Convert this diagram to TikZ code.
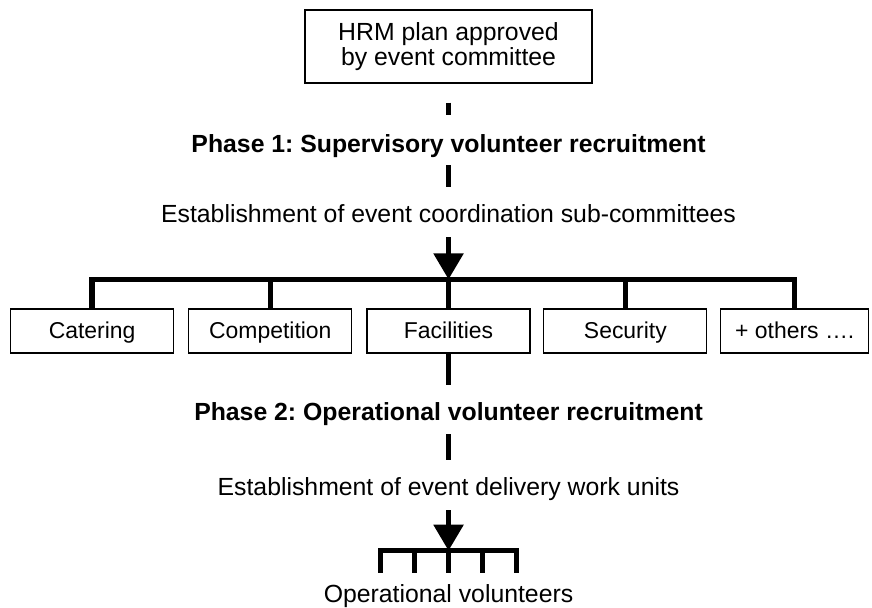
\documentclass[tikz,border=0pt]{standalone}
\usepackage{fontspec}
\setmainfont{Liberation Sans}
\usetikzlibrary{arrows.meta,positioning}
\frenchspacing

\begin{document}
\begin{tikzpicture}[
  font=\fontsize{18.6}{16.8}\selectfont,
  label/.style={inner sep=0pt, text height=12pt, text depth=3.4pt},
  unit/.style={draw, line width=0.9pt, inner sep=0pt, minimum width=122.25pt,
    minimum height=33pt, text height=12pt, text depth=1.5pt,
    font=\fontsize{17.2}{18}\selectfont},
  link/.style={line width=4pt},
  feed/.style={line width=4pt, -{Triangle[width=21.75pt,length=19.5pt]}}
]
\useasboundingbox (-336.4pt,34.9pt) rectangle (317.6pt,-420.4pt);

\node (hrm) [draw, line width=0.9pt, minimum width=215.25pt, minimum height=54.75pt,
  align=center] {HRM plan approved\\by event committee};
\node (phase1) [label, below of=hrm, node distance=74.8pt]
  {\bfseries Phase 1: Supervisory volunteer recruitment};
\node (est1) [label, below of=phase1, node distance=52.5pt]
  {Establishment of event coordination sub-committees};

\node (facilities) [unit, below of=est1, node distance=86.06pt] {Facilities};
\node (competition) [unit, left=10.5pt of facilities] {Competition};
\node (catering) [unit, left=10.5pt of competition] {Catering};
\node (security) [unit, right=9.5pt of facilities] {Security};
\node (others) [unit, right=9.5pt of security, minimum width=111pt] {+ others ….};

\node (phase2) [label, below of=facilities, node distance=62.44pt]
  {\bfseries Phase 2: Operational volunteer recruitment};
\node (est2) [label, below of=phase2, node distance=56.25pt]
  {Establishment of event delivery work units};
\node (vols) [label, below of=est2, node distance=80.25pt] {Operational volunteers};

\coordinate (hub1) at ([yshift=21.75pt]facilities.north);
\coordinate (hub2) at ([yshift=26.25pt]vols.north);

\draw[link, shorten <=14.25pt, shorten >=15.75pt] (hrm) -- (phase1);
\draw[link, shorten <=6.4pt, shorten >=14.25pt] (phase1) -- (est1);
\draw[feed, shorten <=7.9pt] (est1) -- (hub1);

% sub-committee branches
\draw[link] (catering.north) -- ++(0,21.75pt) -| (others.north);
\foreach \u in {competition,facilities,security}
  \draw[link] (\u.north) -- ++(0,21.75pt);

\draw[link, shorten >=14.25pt] (facilities) -- (phase2);
\draw[link, shorten <=7.1pt, shorten >=14.25pt] (phase2) -- (est2);
\draw[feed, shorten <=7.9pt] (est2) -- (hub2);

% work unit comb
\draw[link] ([xshift=-51pt,yshift=-16.5pt]hub2) |- ([xshift=51pt]hub2) -- ++(0,-16.5pt);
\foreach \dx in {-25.5,0,25.5}
  \draw[link] ([xshift=\dx pt]hub2) -- ++(0,-16.5pt);
\end{tikzpicture}
\end{document}
